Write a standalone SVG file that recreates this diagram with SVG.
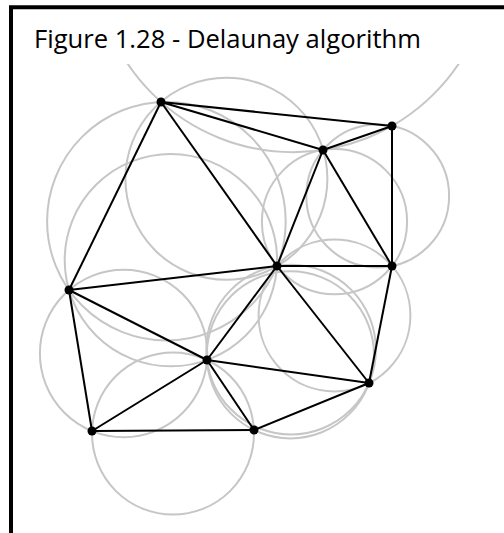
<svg xmlns="http://www.w3.org/2000/svg" width="504" height="533" viewBox="0 0 504 533">
<style>
.frame{fill:none;stroke:#000;stroke-width:4}
.title{font-family:"Open Sans","Liberation Sans",sans-serif;font-size:25.5px;fill:#000}
.cc{fill:none;stroke:#c6c6c6;stroke-width:2}
.edge{stroke:#000;stroke-width:2;fill:none}
.pt{fill:#000}
</style>
<defs>
<clipPath id="clip"><rect x="0" y="64" width="504" height="469"/></clipPath>
</defs>
<rect width="504" height="533" fill="#fff"/>
<path class="frame" d="M11,533 V7.3 H504"/>
<text class="title" x="34" y="47.5" textLength="387" lengthAdjust="spacingAndGlyphs">Figure 1.28 - Delaunay algorithm</text>
<g id="circumcircles" clip-path="url(#clip)">
<circle class="cc" cx="293.2" cy="-46.8" r="199"/>
<circle class="cc" cx="226.4" cy="178.8" r="101"/>
<circle class="cc" cx="166.4" cy="221.2" r="119.3"/>
<circle class="cc" cx="377.7" cy="196" r="71.4"/>
<circle class="cc" cx="334.5" cy="221.7" r="72.6"/>
<circle class="cc" cx="170.9" cy="260.1" r="106.2"/>
<circle class="cc" cx="123.6" cy="353.5" r="83.7"/>
<circle class="cc" cx="173" cy="433.6" r="81"/>
<circle class="cc" cx="291.1" cy="349.6" r="84.8"/>
<circle class="cc" cx="334.5" cy="315.5" r="75.9"/>
<circle class="cc" cx="290.4" cy="354.8" r="83.6"/>
</g>
<g id="connectors">
<line class="edge" x1="161" y1="102" x2="392" y2="126"/>
<line class="edge" x1="161" y1="102" x2="323" y2="150"/>
<line class="edge" x1="161" y1="102" x2="277" y2="266"/>
<line class="edge" x1="161" y1="102" x2="69" y2="290"/>
<line class="edge" x1="323" y1="150" x2="392" y2="126"/>
<line class="edge" x1="392" y1="126" x2="392" y2="266"/>
<line class="edge" x1="323" y1="150" x2="277" y2="266"/>
<line class="edge" x1="323" y1="150" x2="392" y2="266"/>
<line class="edge" x1="277" y1="266" x2="392" y2="266"/>
<line class="edge" x1="69" y1="290" x2="277" y2="266"/>
<line class="edge" x1="69" y1="290" x2="207" y2="360"/>
<line class="edge" x1="69" y1="290" x2="92" y2="431"/>
<line class="edge" x1="277" y1="266" x2="207" y2="360"/>
<line class="edge" x1="277" y1="266" x2="369" y2="383"/>
<line class="edge" x1="392" y1="266" x2="369" y2="383"/>
<line class="edge" x1="207" y1="360" x2="369" y2="383"/>
<line class="edge" x1="207" y1="360" x2="92" y2="431"/>
<line class="edge" x1="207" y1="360" x2="254" y2="430"/>
<line class="edge" x1="92" y1="431" x2="254" y2="430"/>
<line class="edge" x1="254" y1="430" x2="369" y2="383"/>
</g>
<g id="pA"><circle class="pt" cx="161" cy="102" r="4.5"/></g>
<g id="pB"><circle class="pt" cx="392" cy="126" r="4.5"/></g>
<g id="pC"><circle class="pt" cx="323" cy="150" r="4.5"/></g>
<g id="pD"><circle class="pt" cx="277" cy="266" r="4.5"/></g>
<g id="pE"><circle class="pt" cx="392" cy="266" r="4.5"/></g>
<g id="pF"><circle class="pt" cx="69" cy="290" r="4.5"/></g>
<g id="pG"><circle class="pt" cx="207" cy="360" r="4.5"/></g>
<g id="pH"><circle class="pt" cx="92" cy="431" r="4.5"/></g>
<g id="pI"><circle class="pt" cx="254" cy="430" r="4.5"/></g>
<g id="pJ"><circle class="pt" cx="369" cy="383" r="4.5"/></g>
</svg>
